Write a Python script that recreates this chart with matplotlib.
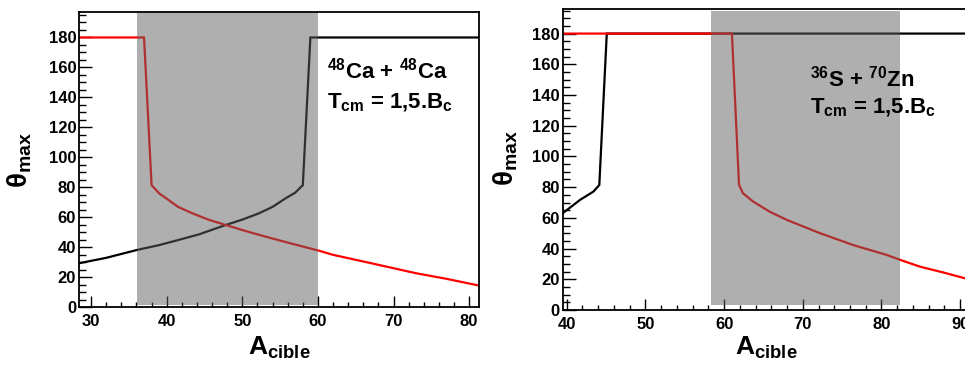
import matplotlib
matplotlib.use("Agg")
import matplotlib.pyplot as plt
from matplotlib.ticker import MultipleLocator

plt.rcParams['font.family'] = ['Liberation Sans', 'DejaVu Sans']
plt.rcParams['font.weight'] = 'bold'
plt.rcParams['mathtext.fontset'] = 'custom'
plt.rcParams['mathtext.rm'] = 'Liberation Sans:bold'
plt.rcParams['mathtext.it'] = 'Liberation Sans:bold'
plt.rcParams['mathtext.bf'] = 'Liberation Sans:bold'
plt.rcParams['mathtext.sf'] = 'Liberation Sans'
plt.rcParams['mathtext.default'] = 'rm'

# ---------------- data ----------------
# Left panel: 48Ca + 48Ca
left_black_x = [28.4, 32, 36.1, 39, 41.6, 44.3, 47.8, 50, 52.2, 54, 55.75, 57, 58, 59, 81.3]
left_black_y = [29.4, 33, 38.3, 41.5, 45, 48.7, 54.9, 58.5, 62.7, 67, 72.8, 76.5, 81.5, 180, 180]
left_red_x = [28.4, 37, 38, 39, 39.9, 41.5, 43.4, 45.5, 47.8, 50.5, 53.1, 56.5, 60.1, 62, 67.4, 73, 77, 81.3]
left_red_y = [180, 180, 81.5, 76, 72.8, 67, 62.7, 58.5, 54.9, 50.8, 47.1, 42.5, 37.8, 35, 29, 22.7, 19, 14.5]
left_shade_x = [36.1, 60.07]
left_shade_y = [1.5, 197]

# Right panel: 36S + 70Zn
right_black_x = [39.5, 41.7, 43.4, 44.15, 45.1, 91.2]
right_black_y = [63, 71.7, 77.1, 81.4, 180, 180]
right_red_x = [39.5, 61, 61.9, 62.4, 63.7, 65.8, 68, 72.2, 76.4, 80.7, 82.4, 84.9, 87.8, 90.7]
right_red_y = [180, 180, 81.5, 76, 70.6, 64, 58.6, 50, 42.3, 35.8, 32.6, 28.2, 24.5, 20.5]
right_shade_x = [58.37, 82.35]
right_shade_y = [3.3, 195]

left_title = [r'$^{48}$Ca + $^{48}$Ca', r'T$_{cm}$ = 1,5.B$_{c}$']
right_title = [r'$^{36}$S + $^{70}$Zn', r'T$_{cm}$ = 1,5.B$_{c}$']
xlabel = r'A$_{cible}$'
ylabel = r'$\mathsf{θ}_{max}$'

# ---------------- figure ----------------
W, H = 965, 367
fig = plt.figure(figsize=(W / 100, H / 100), dpi=100)


def axes_px(l, r, t, b):
    return fig.add_axes([l / W, 1 - b / H, (r - l) / W, (b - t) / H])


def style(ax, xlim, ylim):
    ax.set_xlim(*xlim)
    ax.set_ylim(*ylim)
    ax.xaxis.set_major_locator(MultipleLocator(10))
    ax.xaxis.set_minor_locator(MultipleLocator(2))
    ax.yaxis.set_major_locator(MultipleLocator(20))
    ax.yaxis.set_minor_locator(MultipleLocator(5))
    ax.tick_params(which='both', direction='in', top=False, right=False,
                   labelsize=12, width=1, color='black')
    ax.tick_params(axis='x', which='major', length=8, pad=5)
    ax.tick_params(axis='x', which='minor', length=3.5)
    ax.tick_params(axis='y', which='major', length=9, pad=2)
    ax.tick_params(axis='y', which='minor', length=5)
    for s in ax.spines.values():
        s.set_linewidth(1.3)
        s.set_zorder(6)
    for lab in ax.get_xticklabels() + ax.get_yticklabels():
        lab.set_fontweight('bold')


ax1 = axes_px(79, 479, 12, 307.3)
ax2 = axes_px(562.7, 969.5, 9, 310)

style(ax1, (28.4, 81.3), (0, 197))
style(ax2, (39.5, 91.18), (0, 196))
ax2.spines['right'].set_visible(False)

for ax, bx, by, rx, ry, sx, sy in [
        (ax1, left_black_x, left_black_y, left_red_x, left_red_y, left_shade_x, left_shade_y),
        (ax2, right_black_x, right_black_y, right_red_x, right_red_y, right_shade_x, right_shade_y)]:
    ax.plot(bx, by, color='black', lw=1.6, zorder=2, solid_joinstyle='miter')
    ax.plot(rx, ry, color='#ff0000', lw=1.6, zorder=3, solid_joinstyle='miter')
    ax.fill_between(sx, [sy[0]] * 2, [sy[1]] * 2, color='#616161', alpha=0.5,
                    lw=0, zorder=4)

ax1.text(61.2, 152.4, left_title[0], fontsize=16, va='baseline', zorder=7)
ax1.text(61.2, 133.0, left_title[1], fontsize=16, va='baseline', zorder=7)
ax2.text(70.9, 145.3, right_title[0], fontsize=16, va='baseline', zorder=7)
ax2.text(70.9, 128.3, right_title[1], fontsize=16, va='baseline', zorder=7)

# axis titles
fig.text(279 / W, 1 - 355 / H, xlabel, fontsize=19, ha='center', va='baseline')
fig.text(766 / W, 1 - 355 / H, xlabel, fontsize=19, ha='center', va='baseline')
fig.text(20 / W, 1 - 160 / H, ylabel, fontsize=20, ha='center', va='center', rotation=90)
fig.text(506 / W, 1 - 158 / H, ylabel, fontsize=20, ha='center', va='center', rotation=90)

fig.savefig('out.png', dpi=100)
